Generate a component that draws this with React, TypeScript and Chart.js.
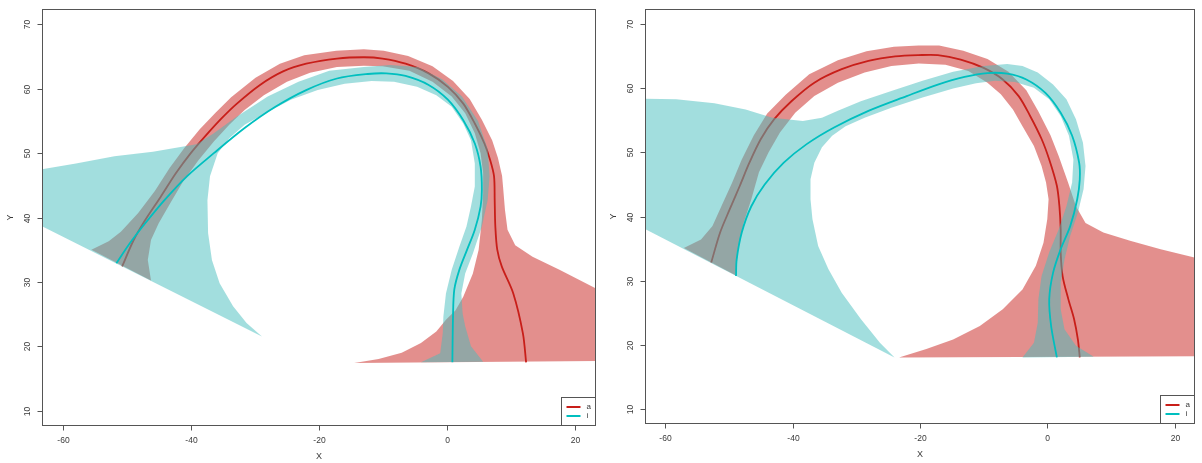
import React, { useEffect, useRef } from "react";
import { Chart, registerables } from "chart.js";

Chart.register(...registerables);

type P = [number, number];

// ---------- axes / labels ----------
const xTicks = [-60, -40, -20, 0, 20];
const yTicks = [10, 20, 30, 40, 50, 60, 70];
const xLimits = [-63.2, 23.2];
const yLimits = [7.6, 72.4];
const seriesNames = ["a", "i"];
const xTitle = "X";
const yTitle = "Y";

// ---------- colours ----------
const lineColorA = "rgb(200,30,25)";
const lineColorI = "rgb(0,191,191)";
const bandColorA = "rgba(200,32,28,0.5)";
const bandColorI = "rgba(70,190,190,0.5)";

// ---------- left panel ----------
const leftLineA: P[] = [
  [12.3, 17.5], [11.8, 22.0], [10.3, 28.2], [8.5, 32.4], [7.8, 35.0], [7.5, 38.6], [7.4, 42.7],
  [7.3, 46.4], [6.7, 48.9], [5.8, 51.5], [4.3, 54.6], [2.5, 57.7], [0.1, 60.3], [-2.9, 62.4],
  [-6.5, 63.9], [-10.1, 64.7], [-13.0, 64.9], [-17.2, 64.7], [-22.0, 63.9], [-25.6, 62.7],
  [-29.2, 60.6], [-32.8, 57.7], [-35.2, 55.4], [-37.6, 52.8], [-40.0, 50.0], [-42.3, 46.9],
  [-44.7, 43.2], [-47.1, 39.6], [-48.9, 36.5], [-50.7, 32.4],
];
const leftLineI: P[] = [
  [-51.6, 32.9], [-49.5, 36.0], [-47.1, 39.1], [-44.1, 42.7], [-40.6, 46.4], [-36.4, 50.0],
  [-31.6, 53.9], [-26.8, 57.2], [-22.0, 59.8], [-17.2, 61.6], [-12.4, 62.3], [-9.5, 62.4],
  [-6.5, 62.0], [-2.9, 60.6], [0.1, 58.3], [2.5, 55.1], [4.3, 51.5], [5.2, 47.9], [5.4, 44.3],
  [5.2, 41.7], [4.3, 38.1], [3.1, 35.0], [1.9, 31.9], [1.1, 28.8], [0.9, 24.6], [0.8, 17.5],
];
const leftBandA: P[] = [
  [-55.5, 35.0], [-52.8, 36.3], [-50.9, 37.8], [-48.2, 40.7], [-45.6, 44.1], [-43.3, 47.7],
  [-41.0, 50.8], [-38.6, 53.7], [-36.1, 56.3], [-33.7, 58.7], [-29.9, 61.7], [-26.1, 63.9],
  [-22.3, 65.2], [-17.3, 65.9], [-13.0, 66.15], [-9.9, 65.9], [-6.1, 65.1], [-2.3, 63.5],
  [0.9, 61.2], [3.5, 58.4], [5.4, 55.2], [7.0, 52.0], [7.9, 49.3], [8.55, 46.5], [8.7, 44.8],
  [9.0, 41.2], [9.4, 38.1], [10.6, 35.7], [13.3, 33.9], [17.5, 31.9], [23.3, 28.9],
  [25.0, 28.0], [25.0, 17.7], [-14.5, 17.4],
  [-10.7, 18.0], [-7.1, 19.0], [-4.1, 20.5], [-1.7, 22.3], [-0.2, 24.1], [1.3, 25.6],
  [2.5, 27.7], [4.0, 31.3], [4.9, 35.0], [5.4, 39.6], [5.6, 43.8], [5.6, 46.9], [5.2, 50.0],
  [4.3, 53.1], [2.8, 56.2], [0.7, 58.8], [-2.3, 61.1], [-5.9, 62.8], [-10.1, 63.5],
  [-13.0, 63.6], [-17.2, 63.4], [-21.4, 62.5], [-25.0, 61.1], [-28.6, 59.0], [-31.6, 56.7],
  [-34.0, 54.4], [-36.4, 51.8], [-38.8, 48.9], [-41.2, 45.6], [-43.2, 42.2], [-45.0, 39.1],
  [-46.2, 36.5], [-46.7, 33.4], [-46.2, 30.2],
];
const leftBandI: P[] = [
  [-65.0, 47.4], [-63.3, 47.5], [-57.9, 48.4], [-51.9, 49.5], [-45.9, 50.2], [-39.1, 51.4],
  [-36.4, 53.1], [-32.8, 55.7], [-28.0, 58.8], [-23.2, 61.1], [-18.4, 62.8], [-13.0, 63.4],
  [-8.9, 63.7], [-4.6, 63.4], [-0.8, 61.5], [2.3, 58.8], [4.8, 55.0], [6.3, 50.7], [6.6, 46.4],
  [6.3, 42.7], [5.4, 38.6], [4.0, 34.4], [2.8, 31.3], [2.2, 28.2], [2.4, 25.1], [2.8, 23.1],
  [3.7, 20.0], [5.6, 17.6], [-4.1, 17.5],
  [-1.1, 18.9], [-0.7, 22.0], [-0.6, 24.6], [-0.2, 28.2], [0.7, 31.9], [1.9, 35.5], [3.0, 38.6],
  [3.7, 41.7], [4.3, 44.8], [4.3, 48.4], [3.7, 52.0], [2.5, 54.6], [0.7, 57.2], [-1.7, 59.0],
  [-4.7, 60.3], [-8.3, 61.1], [-11.8, 61.2], [-16.0, 60.8], [-20.2, 59.8], [-24.4, 58.3],
  [-28.0, 56.4], [-31.6, 54.4], [-34.0, 52.3], [-35.8, 50.0], [-37.0, 46.4], [-37.4, 42.7],
  [-37.3, 37.6], [-36.7, 33.4], [-35.5, 29.8], [-33.4, 26.2], [-31.3, 23.6], [-28.9, 21.5],
  [-63.3, 38.7], [-65.0, 39.6],
];

// ---------- right panel ----------
const rightLineA: P[] = [
  [5.1, 18.0], [4.8, 20.8], [4.2, 24.0], [3.3, 27.1], [2.4, 30.7], [2.1, 34.4], [2.1, 38.0],
  [1.9, 41.6], [1.5, 44.8], [0.3, 48.9], [-0.9, 52.1], [-2.7, 55.7], [-4.5, 58.8], [-7.0, 61.4],
  [-10.0, 63.2], [-13.6, 64.5], [-17.2, 65.2], [-20.2, 65.2], [-23.9, 65.0], [-28.1, 64.3],
  [-32.3, 63.0], [-36.6, 60.9], [-40.2, 58.0], [-42.9, 55.2], [-45.0, 52.1], [-46.8, 48.4],
  [-48.3, 44.8], [-49.9, 41.1], [-51.4, 37.5], [-52.8, 32.8],
];
const rightLineI: P[] = [
  [-48.9, 30.7], [-48.8, 33.3], [-48.0, 37.5], [-46.5, 41.6], [-44.4, 45.0], [-41.4, 48.4],
  [-37.8, 51.3], [-33.5, 53.9], [-28.1, 56.5], [-22.1, 58.8], [-17.2, 60.6], [-13.0, 61.8],
  [-9.4, 62.4], [-6.3, 62.3], [-3.3, 61.4], [-0.3, 59.3], [2.1, 56.2], [3.9, 52.6], [5.0, 48.4],
  [5.1, 45.8], [4.7, 42.7], [3.6, 38.5], [2.1, 34.9], [0.9, 31.2], [0.3, 27.1], [0.6, 22.9],
  [1.5, 18.0],
];
const rightBandA: P[] = [
  [-57.1, 35.1], [-54.4, 36.4], [-52.6, 38.5], [-51.2, 41.6], [-49.5, 45.3], [-48.0, 48.9],
  [-46.1, 52.7], [-44.0, 56.1], [-41.1, 59.0], [-37.4, 62.2], [-32.9, 64.4], [-28.4, 65.8],
  [-24.1, 66.5], [-20.2, 66.7], [-17.0, 66.7], [-13.2, 65.9], [-9.4, 64.6], [-6.1, 62.6],
  [-3.3, 59.7], [-1.4, 56.4], [0.5, 52.7], [1.8, 49.4], [3.3, 45.2], [4.5, 41.6], [6.0, 39.0],
  [8.8, 37.5], [13.0, 36.2], [17.8, 34.9], [23.1, 33.6], [25.0, 33.1],
  [25.0, 18.2], [-23.3, 18.0],
  [-19.0, 19.3], [-14.8, 20.8], [-10.6, 22.9], [-7.0, 25.5], [-3.9, 28.6], [-1.8, 32.3],
  [-0.6, 35.9], [0.0, 39.6], [0.2, 42.7], [-0.2, 45.3], [-0.9, 47.9], [-2.1, 51.0], [-3.9, 54.1],
  [-5.4, 56.7], [-7.3, 59.1], [-9.4, 60.9], [-12.4, 62.7], [-16.0, 63.7], [-20.2, 63.9],
  [-24.5, 63.5], [-28.7, 62.5], [-32.9, 60.9], [-36.6, 58.8], [-39.6, 56.2], [-42.0, 53.1],
  [-43.8, 50.0], [-45.3, 46.9], [-46.5, 42.7], [-47.7, 39.0], [-48.6, 34.9], [-48.9, 30.8],
];
const rightBandI: P[] = [
  [-65.0, 58.4], [-63.3, 58.4], [-58.3, 58.3], [-52.3, 57.7], [-47.4, 56.7], [-43.2, 55.4],
  [-38.4, 54.9], [-35.4, 55.4], [-32.9, 56.5], [-29.3, 58.0], [-24.5, 59.6], [-19.6, 61.2],
  [-14.8, 62.6], [-10.0, 63.5], [-6.3, 63.8], [-3.9, 63.5], [-1.5, 62.5], [0.9, 60.6],
  [3.0, 58.3], [4.5, 55.2], [5.6, 51.5], [6.0, 47.9], [5.7, 44.3], [4.8, 40.6], [3.6, 37.0],
  [2.7, 33.3], [2.1, 29.7], [2.1, 25.5], [2.7, 22.4], [4.5, 19.8], [7.3, 18.1], [-3.9, 18.0],
  [-2.1, 20.3], [-1.5, 23.4], [-1.4, 27.1], [-0.9, 30.7], [0.3, 34.4], [1.8, 38.0], [3.0, 41.6],
  [3.9, 45.3], [4.1, 48.9], [3.4, 52.6], [2.1, 55.7], [0.3, 58.3], [-2.1, 60.1], [-5.1, 61.0],
  [-8.2, 61.2], [-11.2, 60.8], [-14.8, 60.0], [-19.6, 58.6], [-24.5, 57.0], [-28.7, 55.4],
  [-31.7, 54.1], [-33.8, 52.6], [-35.4, 50.8], [-36.6, 48.4], [-37.2, 45.8], [-37.2, 42.7],
  [-36.9, 39.6], [-36.0, 35.4], [-34.4, 31.8], [-32.3, 28.1], [-29.3, 24.0], [-26.3, 20.3],
  [-24.0, 18.0], [-63.3, 38.1], [-65.0, 39.0],
];

const FONT = '"Liberation Sans", Arial, Helvetica, sans-serif';

const toXY = (pts: P[]) => pts.map(([x, y]) => ({ x, y }));

function lineDs(label: string, pts: P[], color: string, order: number) {
  return {
    label,
    data: toXY(pts),
    showLine: true,
    borderColor: color,
    backgroundColor: color,
    borderWidth: 1.8,
    pointRadius: 0,
    pointHoverRadius: 0,
    tension: 0.3,
    fill: false,
    order,
  };
}
function bandDs(label: string, pts: P[], color: string, order: number) {
  return {
    label,
    data: toXY(pts),
    showLine: true,
    borderColor: "rgba(0,0,0,0)",
    backgroundColor: color,
    borderWidth: 0,
    pointRadius: 0,
    pointHoverRadius: 0,
    tension: 0,
    fill: "shape",
    order,
  };
}

const rAxesPlugin = {
  id: "rAxes",
  afterDraw(chart: any) {
    const { ctx, chartArea: ca, scales } = chart;
    const xs = scales.x;
    const ys = scales.y;
    const L = Math.round(ca.left) + 0.5;
    const R = Math.round(ca.right) - 0.5;
    const T = Math.round(ca.top) + 0.5;
    const B = Math.round(ca.bottom) - 0.5;
    ctx.save();
    ctx.strokeStyle = "#555";
    ctx.lineWidth = 1;
    ctx.strokeRect(L, T, R - L, B - T);
    ctx.fillStyle = "#3a3a3a";
    ctx.font = `8.5px ${FONT}`;
    ctx.textAlign = "center";
    ctx.textBaseline = "middle";
    for (const v of xTicks) {
      const px = Math.round(xs.getPixelForValue(v)) + 0.5;
      ctx.beginPath();
      ctx.moveTo(px, B);
      ctx.lineTo(px, B + 5);
      ctx.stroke();
      ctx.fillText(String(v), px, B + 15);
    }
    for (const v of yTicks) {
      const py = Math.round(ys.getPixelForValue(v)) + 0.5;
      ctx.beginPath();
      ctx.moveTo(L - 5, py);
      ctx.lineTo(L, py);
      ctx.stroke();
      ctx.save();
      ctx.translate(L - 15, py);
      ctx.rotate(-Math.PI / 2);
      ctx.fillText(String(v), 0, 0);
      ctx.restore();
    }
    ctx.font = `9px ${FONT}`;
    ctx.fillText(xTitle, (L + R) / 2, B + 31);
    ctx.save();
    ctx.translate(L - 32, (T + B) / 2);
    ctx.rotate(-Math.PI / 2);
    ctx.fillText(yTitle, 0, 0);
    ctx.restore();

    // legend (bottom-right, inside plot box)
    const lw = 34;
    const lh = 28;
    const lx = R - lw;
    const ly = B - lh;
    ctx.fillStyle = "#fff";
    ctx.fillRect(lx, ly, lw, lh);
    ctx.strokeStyle = "#555";
    ctx.strokeRect(lx, ly, lw, lh);
    const colors = [lineColorA, lineColorI];
    ctx.font = `8px ${FONT}`;
    ctx.textAlign = "left";
    seriesNames.forEach((name, i) => {
      const yy = ly + 9.5 + i * 9;
      ctx.strokeStyle = colors[i];
      ctx.lineWidth = 2;
      ctx.beginPath();
      ctx.moveTo(lx + 5, yy);
      ctx.lineTo(lx + 19, yy);
      ctx.stroke();
      ctx.fillStyle = "#3a3a3a";
      ctx.fillText(name, lx + 25, yy);
    });
    ctx.restore();
  },
};

type PanelCfg = {
  lineA: P[];
  lineI: P[];
  bandA: P[];
  bandI: P[];
  padding: { left: number; right: number; top: number; bottom: number };
};

function Panel({ cfg }: { cfg: PanelCfg }) {
  const ref = useRef<HTMLCanvasElement>(null);
  useEffect(() => {
    const chart = new Chart(ref.current as HTMLCanvasElement, {
      type: "scatter",
      data: {
        datasets: [
          bandDs("a band", cfg.bandA, bandColorA, 3),
          lineDs(seriesNames[0], cfg.lineA, lineColorA, 2),
          bandDs("i band", cfg.bandI, bandColorI, 1),
          lineDs(seriesNames[1], cfg.lineI, lineColorI, 0),
        ] as any,
      },
      options: {
        animation: false,
        responsive: false,
        devicePixelRatio: 1,
        events: [],
        layout: { padding: cfg.padding },
        plugins: {
          legend: { display: false },
          tooltip: { enabled: false },
        },
        scales: {
          x: { type: "linear", min: xLimits[0], max: xLimits[1], display: false },
          y: { type: "linear", min: yLimits[0], max: yLimits[1], display: false },
        },
      },
      plugins: [rAxesPlugin],
    } as any);
    return () => chart.destroy();
  }, []);
  return (
    <canvas
      ref={ref}
      width={601}
      height={463}
      style={{ display: "block", width: 601, height: 463 }}
    />
  );
}

const leftCfg: PanelCfg = {
  lineA: leftLineA,
  lineI: leftLineI,
  bandA: leftBandA,
  bandI: leftBandI,
  padding: { left: 42, right: 5, top: 9, bottom: 37 },
};
const rightCfg: PanelCfg = {
  lineA: rightLineA,
  lineI: rightLineI,
  bandA: rightBandA,
  bandI: rightBandI,
  padding: { left: 44, right: 7, top: 9, bottom: 39 },
};

export default function App() {
  return (
    <div
      style={{
        position: "fixed",
        left: 0,
        top: 0,
        width: 1202,
        height: 463,
        display: "flex",
        background: "#fff",
      }}
    >
      <Panel cfg={leftCfg} />
      <Panel cfg={rightCfg} />
    </div>
  );
}
